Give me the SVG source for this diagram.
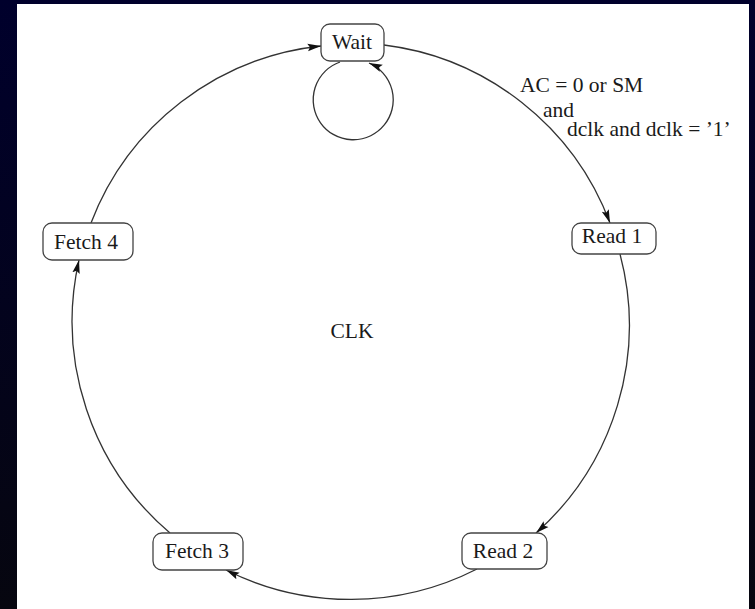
<svg xmlns="http://www.w3.org/2000/svg" width="755" height="609" viewBox="0 0 755 609">
  <defs>
    <linearGradient id="bg" x1="0" y1="0" x2="0" y2="1">
      <stop offset="0" stop-color="#00002c"/>
      <stop offset="1" stop-color="#06060f"/>
    </linearGradient>
    <marker id="arr" markerUnits="userSpaceOnUse" markerWidth="14" markerHeight="10" viewBox="0 0 12 8" refX="11.5" refY="4" orient="auto">
      <path d="M0,0.8 L11.5,4 L0,7.2 L2,4 z" fill="#111"/>
    </marker>
    <style>
      .node rect { fill: #fff; stroke: #444; stroke-width: 1.3; }
      .node text, .lbl { font-family: "Liberation Serif", "Times New Roman", serif; font-size: 21.5px; fill: #1a1a1a; }
      .node text { text-anchor: middle; }
      .edge { fill: none; stroke: #333; stroke-width: 1.3; }
    </style>
  </defs>
  <rect x="0" y="0" width="755" height="609" fill="url(#bg)"/>
  <rect x="17" y="4" width="732" height="610" fill="#fff"/>

  <g id="connectors">
    <path class="edge" d="M384,45 A278,278 0 0,1 610,223" marker-end="url(#arr)"/>
    <path class="edge" d="M620,254 A278,278 0 0,1 536,533" marker-end="url(#arr)"/>
    <path class="edge" d="M477,569 A278,278 0 0,1 226,570" marker-end="url(#arr)"/>
    <path class="edge" d="M170,533 A278,278 0 0,1 79,260" marker-end="url(#arr)"/>
    <path class="edge" d="M91,223 A278,278 0 0,1 321,46" marker-end="url(#arr)"/>
    <path class="edge" d="M340,62 A40,40 0 1,0 369,63" marker-end="url(#arr)"/>
  </g>

  <g id="node-wait" class="node">
    <rect x="321" y="24" width="63" height="37" rx="9"/>
    <text x="352" y="49">Wait</text>
  </g>
  <g id="node-read1" class="node">
    <rect x="572" y="223" width="84" height="31" rx="9"/>
    <text x="612" y="243">Read 1</text>
  </g>
  <g id="node-read2" class="node">
    <rect x="462" y="533" width="85" height="36" rx="9"/>
    <text x="503" y="558">Read 2</text>
  </g>
  <g id="node-fetch3" class="node">
    <rect x="153" y="533" width="90" height="37" rx="9"/>
    <text x="197" y="558">Fetch 3</text>
  </g>
  <g id="node-fetch4" class="node">
    <rect x="43" y="223" width="90" height="37" rx="9"/>
    <text x="86" y="249">Fetch 4</text>
  </g>

  <g id="labels">
    <text class="lbl" x="352" y="338" text-anchor="middle">CLK</text>
    <text class="lbl" x="520" y="92">AC = 0 or SM</text>
    <text class="lbl" x="543" y="117">and</text>
    <text class="lbl" x="567" y="136">dclk and dclk = ’1’</text>
  </g>
</svg>
